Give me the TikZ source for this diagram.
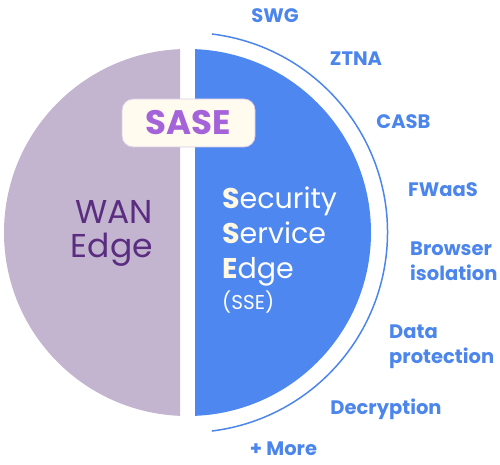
\documentclass[tikz,border=0pt]{standalone}
\usepackage{fontspec}
\setmainfont{Poppins}
\definecolor{wanfill}{HTML}{C3B4CF}
\definecolor{wantext}{HTML}{5A2D80}
\definecolor{ssefill}{HTML}{4F87F1}
\definecolor{lbl}{HTML}{4C86EC}
\definecolor{sasetext}{HTML}{A563D9}
\definecolor{boxfill}{HTML}{FFFBEE}
\definecolor{boxline}{HTML}{D9CAE8}
\definecolor{cream}{HTML}{FFF8E3}
\tikzset{
  ring/.style={draw=lbl, line width=1.5pt},
  feature/.style={text=lbl, inner sep=0pt, font=\fontsize{19.5}{25}\selectfont\bfseries},
  bigtext/.style={inner sep=0pt},
  sasebox/.style={draw=boxline, line width=0.8pt, fill=boxfill, rounded corners=11pt,
    minimum width=133pt, minimum height=48pt, inner sep=0pt, text=sasetext,
    font=\fontsize{34}{34}\selectfont\bfseries}
}
\begin{document}
\begin{tikzpicture}[x=1pt,y=1pt]
\useasboundingbox (0,0) rectangle (500,464);
\coordinate (c) at (187.5,231.5);
\begin{scope}
  \clip (0,0) rectangle (180,464);
  \fill[wanfill] (c) circle[radius=183.5pt];
\end{scope}
\begin{scope}
  \clip (195,0) rectangle (500,464);
  \fill[ssefill] (c) circle[radius=183.5pt];
\end{scope}
\draw[ring] ([shift={(83:200pt)}]c) arc[start angle=83, end angle=-83, radius=200pt];

\node[sasebox] (sase) at (188.5,341) {SASE};

\node[bigtext, anchor=north east, align=right, text=wantext,
  font=\fontsize{33}{34}\selectfont] (wan) at (153,264) {WAN\\Edge};

\node[bigtext, anchor=north west, align=left, text=white,
  font=\fontsize{28.5}{35}\selectfont] (sse) at (222,277)
  {\textcolor{cream}{\bfseries S}ecurity\\\textcolor{cream}{\bfseries S}ervice\\\textcolor{cream}{\bfseries E}dge\\[-4pt]{\fontsize{20}{22}\selectfont (SSE)}};

\node[feature, anchor=base] (swg) at (275,441) {SWG};
\node[feature, anchor=base] (ztna) at (356,398) {ZTNA};
\node[feature, anchor=base] (casb) at (403.5,335) {CASB};
\node[feature, anchor=base] (fwaas) at (443,268) {FWaaS};
\node[feature, anchor=north west, align=left] (browser) at (410,222) {Browser\\isolation};
\node[feature, anchor=north west, align=left] (data) at (389,139) {Data\\protection};
\node[feature, anchor=base] (decrypt) at (386,50) {Decryption};
\node[feature, anchor=base] (more) at (283.5,9) {+ More};
\end{tikzpicture}
\end{document}
